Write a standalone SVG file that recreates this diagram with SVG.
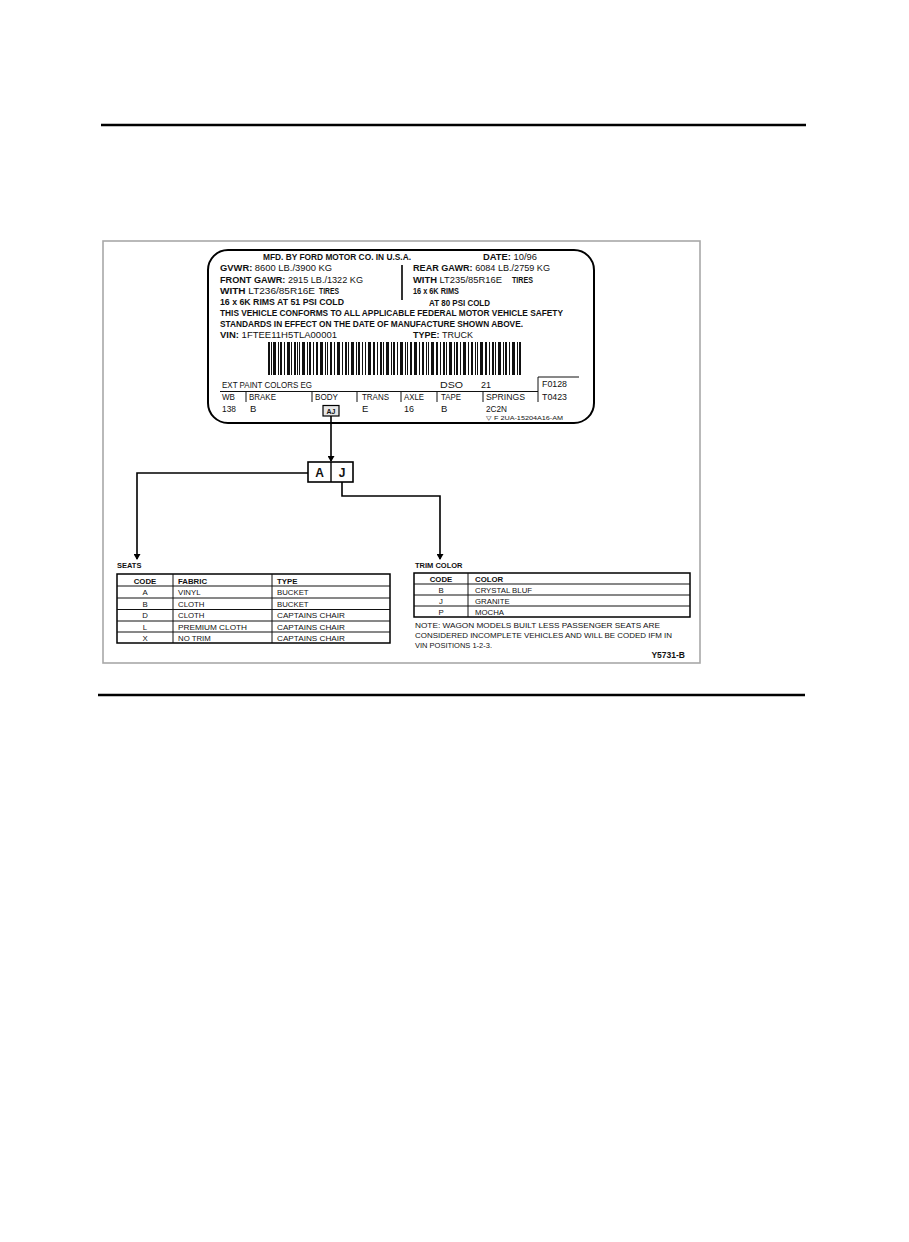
<svg xmlns="http://www.w3.org/2000/svg" width="909" height="1242" viewBox="0 0 909 1242">
<style>
text{font-family:"Liberation Sans",Arial,sans-serif;fill:#111}
.lb{font-size:8.6px;font-weight:bold}
.lr{font-size:8.6px}
.f{font-size:9.5px}
.t{font-size:7.8px}
.th{font-size:7.8px;font-weight:bold}
.rule{stroke:#000;stroke-width:2.5}
.thin{stroke:#111;stroke-width:1;fill:none}
.conn{stroke:#000;stroke-width:1.6;fill:none}
</style>
<defs>
<marker id="arr" markerWidth="6" markerHeight="7" refX="5" refY="3.5" orient="auto" markerUnits="userSpaceOnUse">
<path d="M0,0 L6,3.5 L0,7 z" fill="#000"/>
</marker>
</defs>
<rect width="909" height="1242" fill="#fff"/>
<line class="rule" x1="101" y1="125" x2="806" y2="125"/>
<line class="rule" x1="98" y1="695" x2="805" y2="695"/>
<rect x="103" y="241" width="597" height="422" fill="none" stroke="#a8a8a8" stroke-width="1.6"/>

<g id="label">
<rect x="208" y="250" width="386" height="173" rx="20" fill="none" stroke="#000" stroke-width="2"/>
<text class="lb" x="263" y="260" textLength="148" lengthAdjust="spacingAndGlyphs">MFD. BY FORD MOTOR CO. IN U.S.A.</text>
<text class="lb" x="483" y="260" textLength="54" lengthAdjust="spacingAndGlyphs">DATE: <tspan font-weight="normal">10/96</tspan></text>
<text class="lb" x="220" y="271" textLength="112" lengthAdjust="spacingAndGlyphs">GVWR: <tspan font-weight="normal">8600 LB./3900 KG</tspan></text>
<text class="lb" x="220" y="283" textLength="143" lengthAdjust="spacingAndGlyphs">FRONT GAWR: <tspan font-weight="normal">2915 LB./1322 KG</tspan></text>
<text class="lb" x="220" y="294" textLength="95" lengthAdjust="spacingAndGlyphs">WITH <tspan font-weight="normal">LT236/85R16E</tspan></text>
<text class="lb" x="319" y="294" textLength="20" lengthAdjust="spacingAndGlyphs">TIRES</text>
<text class="lb" x="220" y="305" textLength="124" lengthAdjust="spacingAndGlyphs">16 x 6K RIMS AT 51 PSI COLD</text>
<text class="lb" x="220" y="316" textLength="343" lengthAdjust="spacingAndGlyphs">THIS VEHICLE CONFORMS TO ALL APPLICABLE FEDERAL MOTOR VEHICLE SAFETY</text>
<text class="lb" x="220" y="327" textLength="303" lengthAdjust="spacingAndGlyphs">STANDARDS IN EFFECT ON THE DATE OF MANUFACTURE SHOWN ABOVE.</text>
<text class="lb" x="220" y="338" textLength="117" lengthAdjust="spacingAndGlyphs">VIN: <tspan font-weight="normal">1FTEE11H5TLA00001</tspan></text>
<text class="lb" x="413" y="338" textLength="60" lengthAdjust="spacingAndGlyphs">TYPE: <tspan font-weight="normal">TRUCK</tspan></text>
<text class="lb" x="413" y="271" textLength="137" lengthAdjust="spacingAndGlyphs">REAR GAWR: <tspan font-weight="normal">6084 LB./2759 KG</tspan></text>
<text class="lb" x="413" y="283" textLength="89" lengthAdjust="spacingAndGlyphs">WITH <tspan font-weight="normal">LT235/85R16E</tspan></text>
<text class="lb" x="512" y="283" textLength="21" lengthAdjust="spacingAndGlyphs">TIRES</text>
<text class="lb" x="413" y="294" textLength="46" lengthAdjust="spacingAndGlyphs">16 x 6K RIMS</text>
<text class="lb" x="429" y="305.5" textLength="61" lengthAdjust="spacingAndGlyphs">AT 80 PSI COLD</text>
<line x1="402" y1="265" x2="402" y2="300" stroke="#000" stroke-width="1.6"/>
<path fill="#111" d="M268 342h2v33h-2zM271 342h1v33h-1zM273 342h3v33h-3zM278 342h1v33h-1zM280 342h2v33h-2zM284 342h1v33h-1zM287 342h3v33h-3zM291 342h1v33h-1zM294 342h2v33h-2zM297 342h1v33h-1zM299 342h1v33h-1zM302 342h3v33h-3zM307 342h1v33h-1zM309 342h2v33h-2zM313 342h1v33h-1zM316 342h2v33h-2zM320 342h3v33h-3zM325 342h1v33h-1zM327 342h1v33h-1zM330 342h2v33h-2zM334 342h1v33h-1zM337 342h3v33h-3zM342 342h1v33h-1zM345 342h2v33h-2zM348 342h1v33h-1zM351 342h3v33h-3zM356 342h1v33h-1zM358 342h2v33h-2zM362 342h1v33h-1zM365 342h1v33h-1zM368 342h3v33h-3zM373 342h2v33h-2zM377 342h1v33h-1zM380 342h2v33h-2zM383 342h1v33h-1zM386 342h3v33h-3zM391 342h1v33h-1zM393 342h2v33h-2zM397 342h1v33h-1zM400 342h3v33h-3zM405 342h1v33h-1zM407 342h1v33h-1zM410 342h2v33h-2zM414 342h3v33h-3zM419 342h1v33h-1zM422 342h2v33h-2zM426 342h1v33h-1zM428 342h1v33h-1zM431 342h3v33h-3zM436 342h2v33h-2zM440 342h1v33h-1zM443 342h2v33h-2zM446 342h1v33h-1zM449 342h3v33h-3zM454 342h1v33h-1zM456 342h2v33h-2zM460 342h1v33h-1zM463 342h3v33h-3zM468 342h1v33h-1zM471 342h2v33h-2zM475 342h1v33h-1zM477 342h1v33h-1zM480 342h3v33h-3zM485 342h2v33h-2zM489 342h1v33h-1zM492 342h2v33h-2zM495 342h1v33h-1zM498 342h3v33h-3zM503 342h1v33h-1zM505 342h2v33h-2zM509 342h1v33h-1zM512 342h3v33h-3zM517 342h1v33h-1zM519 342h2v33h-2z"/>
<text class="f" x="222" y="388" textLength="90" lengthAdjust="spacingAndGlyphs">EXT PAINT COLORS EG</text>
<text class="f" x="440" y="388" textLength="23" lengthAdjust="spacingAndGlyphs">DSO</text>
<text class="f" x="481" y="388" textLength="10" lengthAdjust="spacingAndGlyphs">21</text>
<text class="f" x="542" y="387" textLength="25" lengthAdjust="spacingAndGlyphs">F0128</text>
<path class="thin" d="M538 377H579M538 377V402M220 391.5H538M246 392V402M312 392V402M357 392V402M401 392V402M437 392V402M483 392V402" stroke-width="1.2"/>
<text class="f" x="222" y="400" textLength="13" lengthAdjust="spacingAndGlyphs">WB</text>
<text class="f" x="249" y="400" textLength="27" lengthAdjust="spacingAndGlyphs">BRAKE</text>
<text class="f" x="315" y="400" textLength="23" lengthAdjust="spacingAndGlyphs">BODY</text>
<text class="f" x="362" y="400" textLength="27" lengthAdjust="spacingAndGlyphs">TRANS</text>
<text class="f" x="404" y="400" textLength="20" lengthAdjust="spacingAndGlyphs">AXLE</text>
<text class="f" x="441" y="400" textLength="20" lengthAdjust="spacingAndGlyphs">TAPE</text>
<text class="f" x="486" y="400" textLength="39" lengthAdjust="spacingAndGlyphs">SPRINGS</text>
<text class="f" x="542" y="400" textLength="25" lengthAdjust="spacingAndGlyphs">T0423</text>
<text class="f" x="222" y="412" textLength="14" lengthAdjust="spacingAndGlyphs">138</text>
<text class="f" x="250" y="412">B</text>
<text class="f" x="362" y="412">E</text>
<text class="f" x="404" y="412" textLength="10" lengthAdjust="spacingAndGlyphs">16</text>
<text class="f" x="441" y="412">B</text>
<text class="f" x="486" y="412" textLength="21" lengthAdjust="spacingAndGlyphs">2C2N</text>
<text x="486" y="419.5" font-size="6" textLength="77" lengthAdjust="spacingAndGlyphs">▽ F 2UA-15204A16-AM</text>
</g>

<g id="body-code">
<rect x="323" y="405.5" width="16" height="10.5" fill="#e6e6e6" stroke="#000" stroke-width="1.2"/>
<text x="331" y="414" font-size="7" font-weight="bold" text-anchor="middle">AJ</text>
</g>

<g id="aj-box">
<rect x="308" y="462" width="45" height="20" fill="#fff" stroke="#000" stroke-width="1.6"/>
<line x1="331" y1="462" x2="331" y2="482" stroke="#000" stroke-width="1.4"/>
<text x="319.5" y="477" font-size="12" font-weight="bold" text-anchor="middle">A</text>
<text x="342" y="477" font-size="12" font-weight="bold" text-anchor="middle">J</text>
</g>

<g id="connectors">
<path class="conn" d="M331 416V461" marker-end="url(#arr)"/>
<path class="conn" d="M308 473H137V559" marker-end="url(#arr)"/>
<path class="conn" d="M342 482V496H440V559" marker-end="url(#arr)"/>
</g>

<g id="seats">
<text x="117" y="568" font-size="7.5" font-weight="bold">SEATS</text>
<rect x="117" y="574" width="273" height="69" fill="none" stroke="#000" stroke-width="1.5"/>
<path class="thin" d="M117 586H390M117 598H390M117 609.5H390M117 621H390M117 632H390M173 574V643M272 574V643"/>
<text class="th" x="145" y="583.5" text-anchor="middle">CODE</text>
<text class="th" x="178" y="583.5">FABRIC</text>
<text class="th" x="277" y="583.5">TYPE</text>
<text class="t" x="145" y="595" text-anchor="middle">A</text>
<text class="t" x="178" y="595">VINYL</text>
<text class="t" x="277" y="595">BUCKET</text>
<text class="t" x="145" y="606.5" text-anchor="middle">B</text>
<text class="t" x="178" y="606.5">CLOTH</text>
<text class="t" x="277" y="606.5">BUCKET</text>
<text class="t" x="145" y="618" text-anchor="middle">D</text>
<text class="t" x="178" y="618">CLOTH</text>
<text class="t" x="277" y="618" textLength="68" lengthAdjust="spacingAndGlyphs">CAPTAINS CHAIR</text>
<text class="t" x="145" y="629.5" text-anchor="middle">L</text>
<text class="t" x="178" y="629.5" textLength="69" lengthAdjust="spacingAndGlyphs">PREMIUM CLOTH</text>
<text class="t" x="277" y="629.5" textLength="68" lengthAdjust="spacingAndGlyphs">CAPTAINS CHAIR</text>
<text class="t" x="145" y="641" text-anchor="middle">X</text>
<text class="t" x="178" y="641">NO TRIM</text>
<text class="t" x="277" y="641" textLength="68" lengthAdjust="spacingAndGlyphs">CAPTAINS CHAIR</text>
</g>

<g id="trim-color">
<text x="415" y="568" font-size="7.5" font-weight="bold">TRIM COLOR</text>
<rect x="414" y="573" width="276" height="44" fill="none" stroke="#000" stroke-width="1.5"/>
<path class="thin" d="M414 584H690M414 595H690M414 606H690M468 573V617"/>
<text class="th" x="441" y="582" text-anchor="middle">CODE</text>
<text class="th" x="475" y="582">COLOR</text>
<text class="t" x="441" y="593" text-anchor="middle">B</text>
<text class="t" x="475" y="593">CRYSTAL BLUF</text>
<text class="t" x="441" y="604" text-anchor="middle">J</text>
<text class="t" x="475" y="604">GRANITE</text>
<text class="t" x="441" y="615" text-anchor="middle">P</text>
<text class="t" x="475" y="615">MOCHA</text>
<text x="415" y="628" font-size="8" textLength="245" lengthAdjust="spacingAndGlyphs">NOTE: WAGON MODELS BUILT LESS PASSENGER SEATS ARE</text>
<text x="415" y="638" font-size="8" textLength="257" lengthAdjust="spacingAndGlyphs">CONSIDERED INCOMPLETE VEHICLES AND WILL BE CODED IFM IN</text>
<text x="415" y="647.5" font-size="8" textLength="77" lengthAdjust="spacingAndGlyphs">VIN POSITIONS 1-2-3.</text>
</g>
<text x="685" y="657.5" font-size="8.5" font-weight="bold" text-anchor="end">Y5731-B</text>
</svg>
